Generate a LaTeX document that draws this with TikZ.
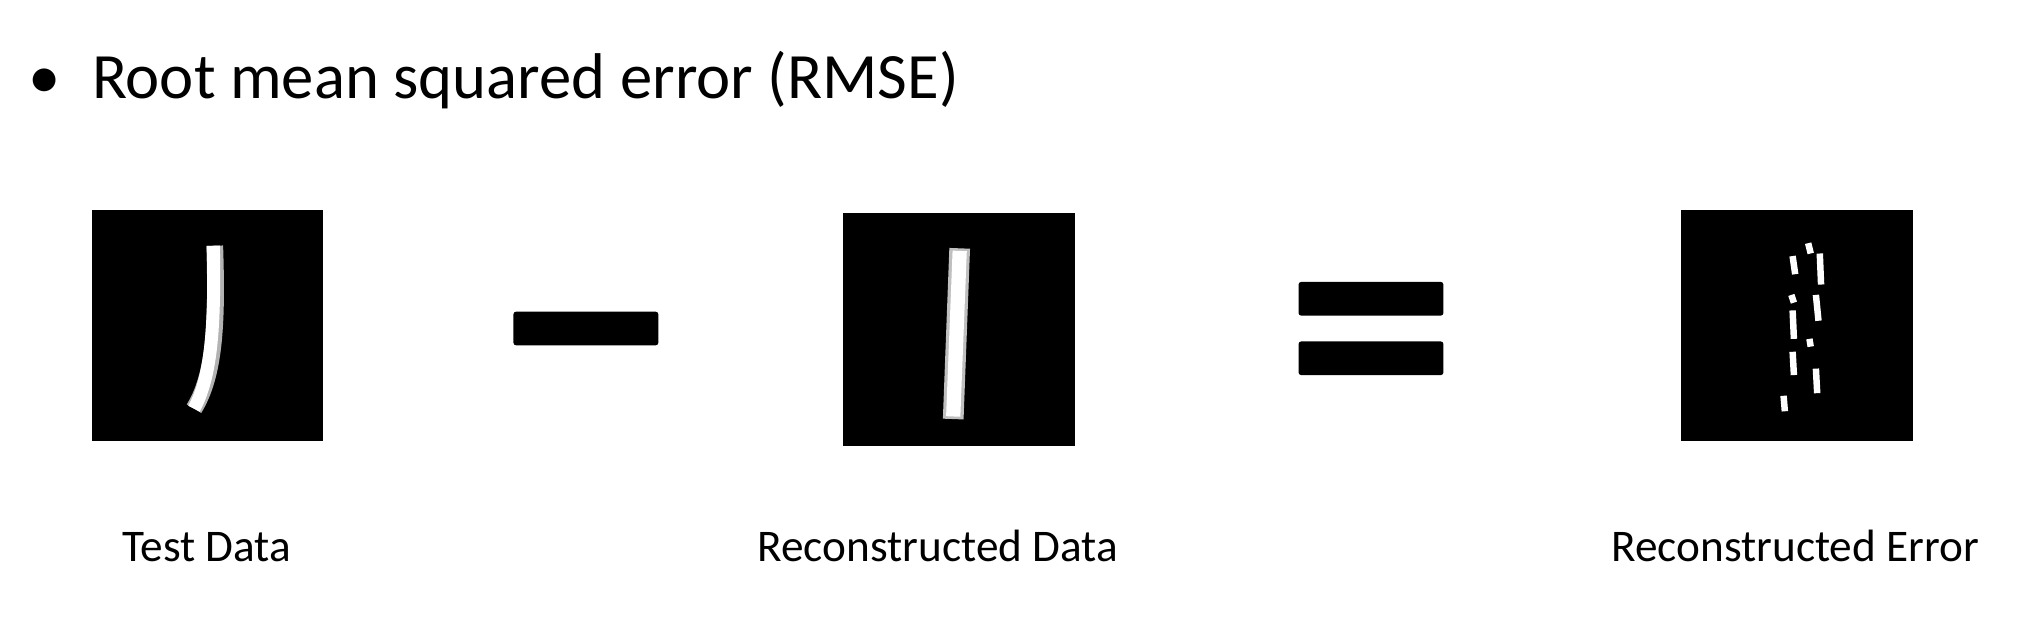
\documentclass[tikz,border=0pt]{standalone}
\usepackage{fontspec}
\setmainfont{Carlito}
\begin{document}
\begin{tikzpicture}[x=1pt,y=-1pt,
  img/.style={fill=black,draw=none},
  bar/.style={fill=black,rounded corners=2pt},
  lbl/.style={font=\fontsize{35}{40}\selectfont,anchor=base},
  stroke/.style={white,line cap=butt}]
\useasboundingbox (0,0) rectangle (1568,481);
\node[anchor=base west,font=\fontsize{50}{58}\selectfont,inner sep=0] (bul) at (22,76) {\textbullet};
\node[anchor=base west,font=\fontsize{50}{58}\selectfont,inner sep=0] (title) at (71,76) {Root mean squared error (RMSE)};
% images
\fill[img] (71,162) rectangle (250,341);
\fill[img] (652,165) rectangle (831,345);
\fill[img] (1300,162) rectangle (1479,341);
% test 1
\draw[stroke,gray!60,line width=13pt] (166,190) .. controls (168,250) and (166,290) .. (150,316);
\draw[stroke,line width=10pt] (165,190) .. controls (166,250) and (164,290) .. (150,316);
% reconstructed 1
\draw[stroke,gray!50,line width=16pt] (742,192) -- (737,324);
\draw[stroke,line width=11pt] (742,194) -- (737,322);
% error
\foreach \a/\b/\c/\d in {1398/188/1400/196, 1386/198/1388/212, 1407/196/1408/220, 1385/228/1387/234, 1404/228/1406/248, 1386/240/1387/262, 1399/262/1400/268, 1386/272/1387/290, 1404/285/1405/304, 1379/306/1380/318}
  \draw[stroke,line width=5pt] (\a,\b) -- (\c,\d);
% operators
\fill[bar] (397,241) rectangle (509,267);
\fill[bar] (1004,218) rectangle (1116,244);
\fill[bar] (1004,264) rectangle (1116,290);
% labels
\node[lbl] (l1) at (160,434) {Test Data};
\node[lbl] (l2) at (725,434) {Reconstructed Data};
\node[lbl] (l3) at (1388,434) {Reconstructed Error};
\end{tikzpicture}
\end{document}
